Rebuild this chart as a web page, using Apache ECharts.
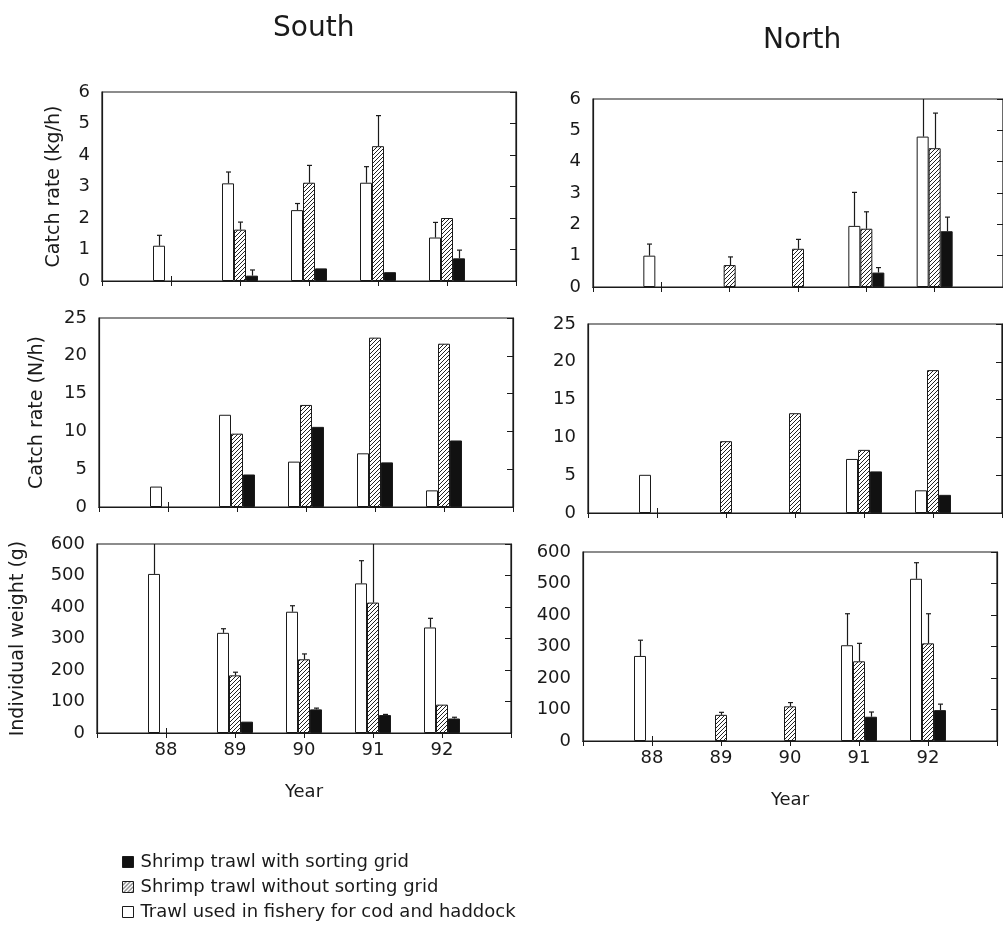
<!DOCTYPE html>
<html><head><meta charset="utf-8">
<script src="https://cdn.jsdelivr.net/npm/echarts@6/dist/echarts.min.js"></script>
<style>html,body{margin:0;padding:0;background:#fff}#c{width:1003px;height:935px}</style>
</head><body><div id="c"></div>
<script>
// ---------- data ----------
const years = ['88', '89', '90', '91', '92'];
const seriesNames = ['Trawl used in fishery for cod and haddock', 'Shrimp trawl without sorting grid', 'Shrimp trawl with sorting grid'];
const legendOrder = ['Shrimp trawl with sorting grid', 'Shrimp trawl without sorting grid', 'Trawl used in fishery for cod and haddock'];

// South, catch rate (kg/h): bar values and upper ends of error bars
const southKgWhite   = [1.12, 3.10, 2.25, 3.12, 1.38];
const southKgWhiteUp = [1.45, 3.46, 2.46, 3.63, 1.86];
const southKgHatch   = [null, 1.63, 3.12, 4.28, 2.00];
const southKgHatchUp = [null, 1.87, 3.67, 5.25, null];
const southKgBlack   = [null, 0.17, 0.40, 0.28, 0.72];
const southKgBlackUp = [null, 0.35, null, null, 0.98];

// North, catch rate (kg/h)
const northKgWhite   = [1.00, null, null, 1.95, 4.80];
const northKgWhiteUp = [1.37, null, null, 3.02, 6.50];
const northKgHatch   = [null, 0.70, 1.22, 1.86, 4.43];
const northKgHatchUp = [null, 0.96, 1.52, 2.40, 5.55];
const northKgBlack   = [null, null, null, 0.46, 1.78];
const northKgBlackUp = [null, null, null, 0.62, 2.23];

// South, catch rate (N/h)
const southNhWhite = [2.7, 12.2, 6.0, 7.1, 2.2];
const southNhHatch = [null, 9.7, 13.5, 22.4, 21.6];
const southNhBlack = [null, 4.3, 10.6, 5.9, 8.8];

// North, catch rate (N/h)
const northNhWhite = [5.05, null, null, 7.15, 3.0];
const northNhHatch = [null, 9.5, 13.2, 8.35, 18.9];
const northNhBlack = [null, null, null, 5.5, 2.4];

// South, individual weight (g)
const southWtWhite   = [505, 318, 385, 475, 335];
const southWtWhiteUp = [650, 331, 404, 547, 364];
const southWtHatch   = [null, 183, 234, 414, 90];
const southWtHatchUp = [null, 193, 251, 650, null];
const southWtBlack   = [null, 36, 75, 57, 46];
const southWtBlackUp = [null, null, 79, 59, 50];

// North, individual weight (g)
const northWtWhite   = [270, null, null, 304, 515];
const northWtWhiteUp = [320, null, null, 404, 566];
const northWtHatch   = [null, 83, 110, 253, 310];
const northWtHatchUp = [null, 91, 122, 310, 404];
const northWtBlack   = [null, null, null, 77, 98];
const northWtBlackUp = [null, null, null, 92, 117];

// ---------- layout ----------
const panels = [
  {vals: [southKgWhite, southKgHatch, southKgBlack], up: [southKgWhiteUp, southKgHatchUp, southKgBlackUp]},
  {vals: [northKgWhite, northKgHatch, northKgBlack], up: [northKgWhiteUp, northKgHatchUp, northKgBlackUp]},
  {vals: [southNhWhite, southNhHatch, southNhBlack], up: null},
  {vals: [northNhWhite, northNhHatch, northNhBlack], up: null},
  {vals: [southWtWhite, southWtHatch, southWtBlack], up: [southWtWhiteUp, southWtHatchUp, southWtBlackUp]},
  {vals: [northWtWhite, northWtHatch, northWtBlack], up: [northWtWhiteUp, northWtHatchUp, northWtBlackUp]}
];
const gridBoxes = [
  {left: 102, top: 92, width: 414, height: 189},
  {left: 593, top: 99, width: 414, height: 188},
  {left: 99, top: 318, width: 414, height: 189},
  {left: 588, top: 324, width: 414, height: 189},
  {left: 97, top: 544, width: 414, height: 189},
  {left: 583, top: 552, width: 414, height: 189}
];
const yMax = [6, 6, 25, 25, 600, 600];
const yStep = [1, 1, 5, 5, 100, 100];
const yNames = ['Catch rate (kg/h)', '', 'Catch rate (N/h)', '', 'Individual weight (g)', ''];
const yNameGaps = [38, 0, 52, 0, 69, 0];

const FONT = 'DejaVu Sans';
const INK = '#1a1a1a';
const BAR_W = 12;

// hatch pattern
const pc = document.createElement('canvas');
pc.width = 4; pc.height = 4;
const g = pc.getContext('2d');
g.fillStyle = '#fff'; g.fillRect(0, 0, 4, 4);
g.strokeStyle = '#222'; g.lineWidth = 1;
g.beginPath();
g.moveTo(-1, 5); g.lineTo(5, -1);
g.moveTo(-1, 1); g.lineTo(1, -1);
g.moveTo(3, 5); g.lineTo(5, 3);
g.stroke();

const fills = ['#ffffff', {image: pc, repeat: 'repeat'}, '#111111'];
const offsets = [-BAR_W, 0, BAR_W];
const catData = ['', ...years, ''];
const pad = a => [null, ...a, null];

function errRender(offset) {
  return function (params, api) {
    const v = api.value(1), u = api.value(2);
    const p = api.coord([api.value(0), v]);
    const q = api.coord([api.value(0), u]);
    const cs = params.coordSys;
    const top = Math.max(q[1], cs.y);
    const x = Math.round(p[0] + offset) + 0.5;
    const children = [{type: 'line', shape: {x1: x, y1: p[1], x2: x, y2: top}, style: {stroke: INK, lineWidth: 1.2}}];
    if (q[1] > cs.y + 1) {
      children.push({type: 'line', shape: {x1: x - 2.5, y1: top, x2: x + 2.5, y2: top}, style: {stroke: INK, lineWidth: 1.2}});
    }
    return {type: 'group', children};
  };
}

const grid = [], xAxis = [], yAxis = [], series = [];
panels.forEach((pn, i) => {
  grid.push(Object.assign({show: true, borderColor: INK, borderWidth: 1.2, backgroundColor: 'transparent'}, gridBoxes[i]));
  const isBottom = i >= 4;
  xAxis.push({
    gridIndex: i, type: 'category', data: catData, boundaryGap: false, position: 'bottom',
    axisLine: {show: true, lineStyle: {color: INK, width: 1.2}},
    axisTick: {show: true, inside: true, length: 5, lineStyle: {color: INK}},
    axisLabel: {show: isBottom, fontFamily: FONT, fontSize: 18, color: INK, margin: 8, interval: 0},
    splitLine: {show: false},
    name: isBottom ? 'Year' : '', nameLocation: 'middle', nameGap: 50,
    nameTextStyle: {fontFamily: FONT, fontSize: 18, color: INK}
  });
  xAxis.push({
    gridIndex: i, type: 'category', data: catData, boundaryGap: false, position: 'top',
    axisLine: {show: true, lineStyle: {color: INK, width: 1.2}},
    axisTick: {show: true, inside: true, length: 5, lineStyle: {color: INK}},
    axisLabel: {show: false}, splitLine: {show: false}
  });
  yAxis.push({
    gridIndex: i, type: 'value', min: 0, max: yMax[i], interval: yStep[i], position: 'left',
    axisLine: {show: true, lineStyle: {color: INK, width: 1.2}},
    axisTick: {show: false},
    axisLabel: {fontFamily: FONT, fontSize: 18, color: INK, margin: 12},
    splitLine: {show: false},
    name: yNames[i], nameLocation: 'middle', nameGap: yNameGaps[i], nameRotate: 90,
    nameTextStyle: {fontFamily: FONT, fontSize: 19, color: INK}
  });
  yAxis.push({
    gridIndex: i, type: 'value', min: 0, max: yMax[i], interval: yStep[i], position: 'right',
    axisLine: {show: true, lineStyle: {color: INK, width: 1.2}},
    axisTick: {show: true, inside: true, length: 6, lineStyle: {color: INK}},
    axisLabel: {show: false}, splitLine: {show: false}
  });
  pn.vals.forEach((arr, s) => {
    series.push({
      type: 'bar', name: seriesNames[s], xAxisIndex: 2 * i, yAxisIndex: 2 * i,
      data: pad(arr), barWidth: BAR_W, barGap: '0%',
      itemStyle: {color: fills[s], borderColor: INK, borderWidth: 1},
      emphasis: {disabled: true}
    });
  });
  if (pn.up) {
    pn.up.forEach((arr, s) => {
      const d = [];
      arr.forEach((u, k) => { if (u != null) d.push([k + 1, pn.vals[s][k], u]); });
      series.push({
        type: 'custom', name: 'err' + i + '_' + s, xAxisIndex: 2 * i, yAxisIndex: 2 * i, z: 5,
        renderItem: errRender(offsets[s]), data: d, silent: true
      });
    });
  }
});

const chart = echarts.init(document.getElementById('c'), null, {renderer: 'canvas'});
chart.setOption({
  animation: false,
  backgroundColor: '#fff',
  title: [
    {text: 'South', left: 268, top: 10, textStyle: {fontFamily: FONT, fontSize: 28, fontWeight: 'normal', color: INK}},
    {text: 'North', left: 758, top: 22, textStyle: {fontFamily: FONT, fontSize: 28, fontWeight: 'normal', color: INK}}
  ],
  legend: {
    data: legendOrder, orient: 'vertical', left: 117, top: 848, itemGap: 7,
    itemWidth: 11, itemHeight: 11, icon: 'rect', selectedMode: false,
    textStyle: {fontFamily: FONT, fontSize: 18, color: INK, padding: [0, 0, 0, 2]},
    itemStyle: {borderColor: INK, borderWidth: 1}
  },
  grid, xAxis, yAxis, series
});
</script>
</body></html>
